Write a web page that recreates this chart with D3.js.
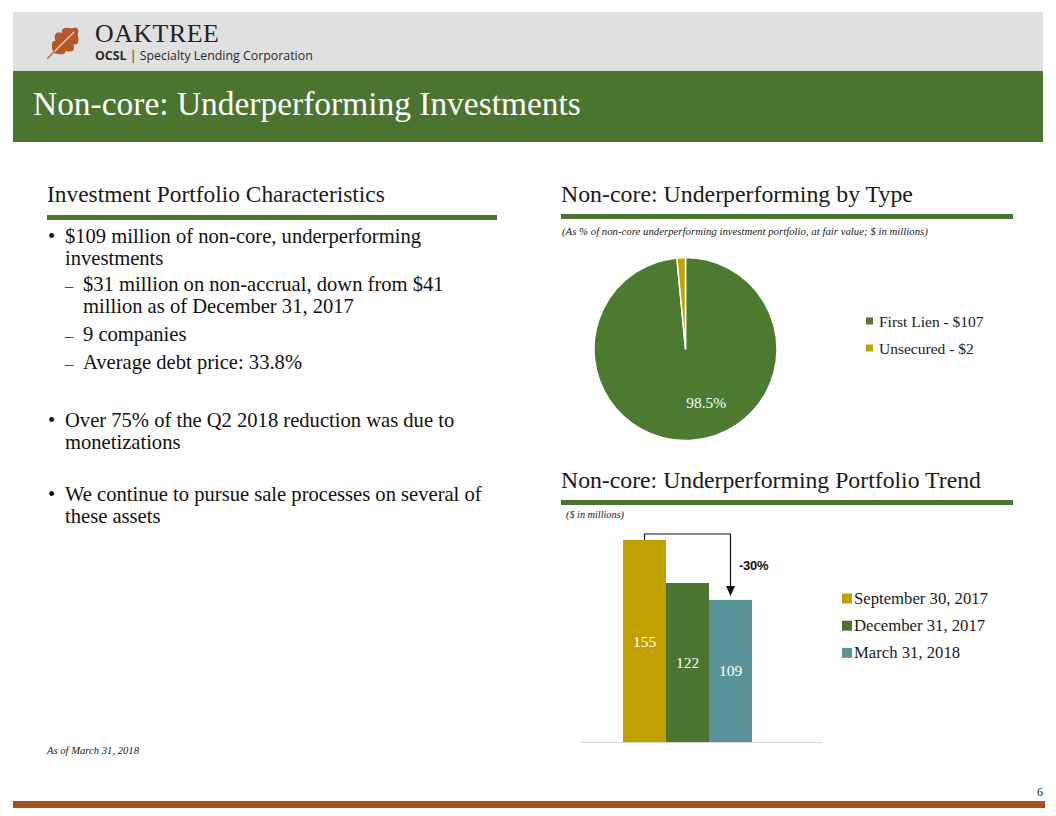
<!DOCTYPE html>
<html>
<head>
<meta charset="utf-8">
<script src="https://cdn.jsdelivr.net/npm/d3@7"></script>
<style>
  html, body { margin: 0; padding: 0; background: #ffffff; }
  svg { display: block; }
</style>
</head>
<body>
<svg id="chart" width="1056" height="816"></svg>
<script>
// ---------------- DATA ----------------
const pageTitle = "Non-core: Underperforming Investments";
const leftHeading = "Investment Portfolio Characteristics";
const pieHeading = "Non-core: Underperforming by Type";
const pieSubtitle = "(As % of non-core underperforming investment portfolio, at fair value; $ in millions)";
const barHeading = "Non-core: Underperforming Portfolio Trend";
const barSubtitle = "($ in millions)";

const pieCategories = ["First Lien - $107", "Unsecured - $2"];
const pieShares = [98.5, 1.5];
const pieLabels = ["98.5%", ""];

const barCategories = ["September 30, 2017", "December 31, 2017", "March 31, 2018"];
const barValues = [155, 122, 109];
const changeLabel = "-30%";

const bulletLines = [
  { kind: "bullet", text: "$109 million of non-core, underperforming" },
  { kind: "cont1", text: "investments" },
  { kind: "dash", text: "$31 million on non-accrual, down from $41" },
  { kind: "cont2", text: "million as of December 31, 2017" },
  { kind: "dash", text: "9 companies" },
  { kind: "dash", text: "Average debt price: 33.8%" },
  { kind: "bullet", text: "Over 75% of the Q2 2018 reduction was due to" },
  { kind: "cont1", text: "monetizations" },
  { kind: "bullet", text: "We continue to pursue sale processes on several of" },
  { kind: "cont1", text: "these assets" }
];
const bulletBaselines = [243, 265, 291, 313, 341, 369, 427, 449, 501, 523];
const footnote = "As of March 31, 2018";
const pageNumber = "6";

// ---------------- STYLE ----------------
const GREEN = "#4B7430";
const GOLD = "#C2A000";
const TEAL = "#5A949A";
const PIE_GREEN = "#4C7A30";
const RUST = "#A6501F";
const SERIF = "'Liberation Serif', 'Times New Roman', serif";
const SANS = "'Liberation Sans', Arial, sans-serif";

const svg = d3.select("#chart");

function fitWidth(sel, target) {
  const node = sel.node();
  const w = node.getComputedTextLength();
  const fs = parseFloat(sel.attr("font-size"));
  if (w > 0) sel.attr("font-size", (fs * target / w).toFixed(2));
  return sel;
}

// ---------------- HEADER ----------------
svg.append("rect").attr("x", 13).attr("y", 12).attr("width", 1030).attr("height", 60).attr("fill", "#E0E0E0");
svg.append("rect").attr("x", 13).attr("y", 71).attr("width", 1030).attr("height", 71).attr("fill", GREEN);

// oak leaf logo
(function drawLeaf() {
  const g = svg.append("g").attr("transform", "translate(65,41) rotate(45)");
  const L = 36, base = 16, N = 80;
  const right = [], left = [];
  for (let i = 0; i <= N; i++) {
    const s = i / N;
    const env = 12.5 * Math.pow(Math.sin(Math.PI * Math.min(1, s * 1.05 + 0.02)), 0.7);
    const mod = 0.62 + 0.38 * Math.pow(Math.abs(Math.sin(Math.PI * 3.5 * s + 0.3)), 0.6);
    const w = env * mod;
    const y = base - s * L;
    right.push([w, y]);
    left.push([-w * 0.95, y]);
  }
  const pts = right.concat(left.reverse());
  g.append("path").attr("d", d3.line().curve(d3.curveCatmullRomClosed)(pts)).attr("fill", "#B4582A");
  g.append("line").attr("x1", 0).attr("y1", 23).attr("x2", 0).attr("y2", -13)
    .attr("stroke", "#F1D6C4").attr("stroke-width", 1.2);
  g.append("line").attr("x1", 0).attr("y1", 15).attr("x2", 0).attr("y2", 25)
    .attr("stroke", "#B4582A").attr("stroke-width", 1.2);
})();

fitWidth(svg.append("text").attr("x", 95).attr("y", 42).attr("font-family", SERIF)
  .attr("font-size", 23).attr("letter-spacing", 0.6).attr("fill", "#222").text("OAKTREE"), 125);

const ocsl = svg.append("text").attr("x", 95).attr("y", 60).attr("font-family", "'Open Sans', " + SANS)
  .attr("font-size", 12.5).attr("fill", "#2a2a2a");
ocsl.append("tspan").attr("font-weight", "bold").text("OCSL");
ocsl.append("tspan").text(" | Specialty Lending Corporation");
fitWidth(ocsl, 218);

fitWidth(svg.append("text").attr("x", 33).attr("y", 115).attr("font-family", SERIF)
  .attr("font-size", 30).attr("fill", "#ffffff").text(pageTitle), 548);

// ---------------- SECTION HEADINGS ----------------
fitWidth(svg.append("text").attr("x", 47).attr("y", 202).attr("font-family", SERIF)
  .attr("font-size", 20).attr("fill", "#1a1a1a").text(leftHeading), 338);
svg.append("rect").attr("x", 47).attr("y", 215).attr("width", 450).attr("height", 5).attr("fill", GREEN);

fitWidth(svg.append("text").attr("x", 561).attr("y", 202).attr("font-family", SERIF)
  .attr("font-size", 20).attr("fill", "#1a1a1a").text(pieHeading), 352);
svg.append("rect").attr("x", 561).attr("y", 214).attr("width", 452).attr("height", 5).attr("fill", GREEN);
fitWidth(svg.append("text").attr("x", 562).attr("y", 235).attr("font-family", SERIF).attr("font-style", "italic")
  .attr("font-size", 10.5).attr("fill", "#1a1a1a").text(pieSubtitle), 366);

fitWidth(svg.append("text").attr("x", 561).attr("y", 488).attr("font-family", SERIF)
  .attr("font-size", 20).attr("fill", "#1a1a1a").text(barHeading), 420);
svg.append("rect").attr("x", 561).attr("y", 500).attr("width", 452).attr("height", 5).attr("fill", GREEN);
fitWidth(svg.append("text").attr("x", 566).attr("y", 518).attr("font-family", SERIF).attr("font-style", "italic")
  .attr("font-size", 10.5).attr("fill", "#1a1a1a").text(barSubtitle), 58);

// ---------------- BULLETS ----------------
const bulletG = svg.append("g").attr("font-family", SERIF).attr("fill", "#111");
const probe = bulletG.append("text").attr("font-size", 19).text(bulletLines[8].text);
const bulletFs = 19 * 417 / probe.node().getComputedTextLength();
probe.remove();
bulletLines.forEach((ln, i) => {
  const y = bulletBaselines[i];
  let tx = 65;
  if (ln.kind === "bullet") {
    bulletG.append("text").attr("x", 48).attr("y", y).attr("font-size", bulletFs).text("•");
  } else if (ln.kind === "dash") {
    bulletG.append("text").attr("x", 65).attr("y", y).attr("font-size", bulletFs * 0.8).attr("fill", "#444").text("–");
    tx = 83;
  } else if (ln.kind === "cont2") {
    tx = 83;
  }
  bulletG.append("text").attr("x", tx).attr("y", y).attr("font-size", bulletFs).text(ln.text);
});

fitWidth(svg.append("text").attr("x", 47).attr("y", 754).attr("font-family", SERIF).attr("font-style", "italic")
  .attr("font-size", 11).attr("fill", "#1a1a1a").text(footnote), 92);

// ---------------- PIE ----------------
const pieCx = 685.5, pieCy = 349, pieR = 91.5;
const pieColor = d3.scaleOrdinal().domain(pieCategories).range([PIE_GREEN, GOLD]);
const pieData = d3.pie().sort(null).value(d => d.v)(pieCategories.map((c, i) => ({ c, v: pieShares[i], l: pieLabels[i] })));
const arc = d3.arc().innerRadius(0).outerRadius(pieR);
const pieG = svg.append("g").attr("transform", `translate(${pieCx},${pieCy})`);
pieG.selectAll("path").data(pieData).join("path")
  .attr("d", arc).attr("fill", d => pieColor(d.data.c))
  .attr("stroke", "#ffffff").attr("stroke-width", 1.5).attr("stroke-linejoin", "round");
const labelArc = d3.arc().innerRadius(pieR * 0.62).outerRadius(pieR * 0.62);
pieG.selectAll("text.pl").data(pieData.filter(d => d.data.l)).join("text")
  .attr("class", "pl")
  .attr("transform", d => {
    const c = labelArc.centroid(d);
    return `translate(${c[0] + 18},${c[1] - 1})`;
  })
  .attr("text-anchor", "middle").attr("dominant-baseline", "middle")
  .attr("font-family", SERIF).attr("font-size", 15.5).attr("fill", "#ffffff")
  .text(d => d.data.l);

const pieLeg = svg.append("g").attr("font-family", SERIF).attr("font-size", 15.5).attr("fill", "#1a1a1a");
pieCategories.forEach((c, i) => {
  const y = 321 + i * 27;
  pieLeg.append("rect").attr("x", 866).attr("y", y - 3.5).attr("width", 7).attr("height", 7).attr("fill", pieColor(c));
  pieLeg.append("text").attr("x", 879).attr("y", y).attr("dominant-baseline", "central").text(c);
});

// ---------------- BAR ----------------
const yBar = d3.scaleLinear().domain([0, 155]).range([742, 540]);
const xBar = d3.scaleBand().domain(barCategories).range([623, 752]).padding(0);
const barColor = d3.scaleOrdinal().domain(barCategories).range([GOLD, GREEN, TEAL]);
const barG = svg.append("g");
barG.append("line").attr("x1", 580).attr("x2", 822).attr("y1", yBar(0) + 0.5).attr("y2", yBar(0) + 0.5)
  .attr("stroke", "#D9D9D9").attr("stroke-width", 1);
barG.selectAll("rect.bar").data(barCategories).join("rect").attr("class", "bar")
  .attr("x", d => xBar(d)).attr("width", xBar.bandwidth())
  .attr("y", (d, i) => yBar(barValues[i])).attr("height", (d, i) => yBar(0) - yBar(barValues[i]))
  .attr("fill", d => barColor(d));
barG.selectAll("text.bv").data(barCategories).join("text").attr("class", "bv")
  .attr("x", d => xBar(d) + xBar.bandwidth() / 2)
  .attr("y", (d, i) => (yBar(barValues[i]) + yBar(0)) / 2)
  .attr("text-anchor", "middle").attr("dominant-baseline", "central")
  .attr("font-family", SERIF).attr("font-size", 15.5).attr("fill", "#ffffff")
  .text((d, i) => barValues[i]);

// change arrow
const x0 = xBar(barCategories[0]) + xBar.bandwidth() / 2;
const x2 = xBar(barCategories[2]) + xBar.bandwidth() / 2;
const yTop = yBar(barValues[0]) - 6;
const yTip = yBar(barValues[2]) - 4;
barG.append("path")
  .attr("d", `M${x0},${yBar(barValues[0])}V${yTop}H${x2}V${yTip - 9}`)
  .attr("fill", "none").attr("stroke", "#111").attr("stroke-width", 1.2);
barG.append("path")
  .attr("d", `M${x2 - 4.5},${yTip - 10}L${x2 + 4.5},${yTip - 10}L${x2},${yTip}Z`).attr("fill", "#111");
barG.append("text").attr("x", 739).attr("y", 570).attr("font-family", SANS).attr("font-weight", "bold")
  .attr("font-size", 13).attr("letter-spacing", -0.3).attr("fill", "#111").text(changeLabel);

const barLeg = svg.append("g").attr("font-family", SERIF).attr("font-size", 16.7).attr("fill", "#1a1a1a");
barCategories.forEach((c, i) => {
  const y = 598.5 + i * 27.2;
  barLeg.append("rect").attr("x", 842).attr("y", y - 5).attr("width", 10).attr("height", 10).attr("fill", barColor(c));
  barLeg.append("text").attr("x", 854).attr("y", y).attr("dominant-baseline", "central").text(c);
});

// ---------------- FOOTER ----------------
svg.append("rect").attr("x", 13).attr("y", 801).attr("width", 1032).attr("height", 7).attr("fill", RUST);
svg.append("text").attr("x", 1043).attr("y", 796).attr("text-anchor", "end").attr("font-family", SERIF)
  .attr("font-size", 12).attr("fill", "#222").text(pageNumber);
</script>
</body>
</html>
